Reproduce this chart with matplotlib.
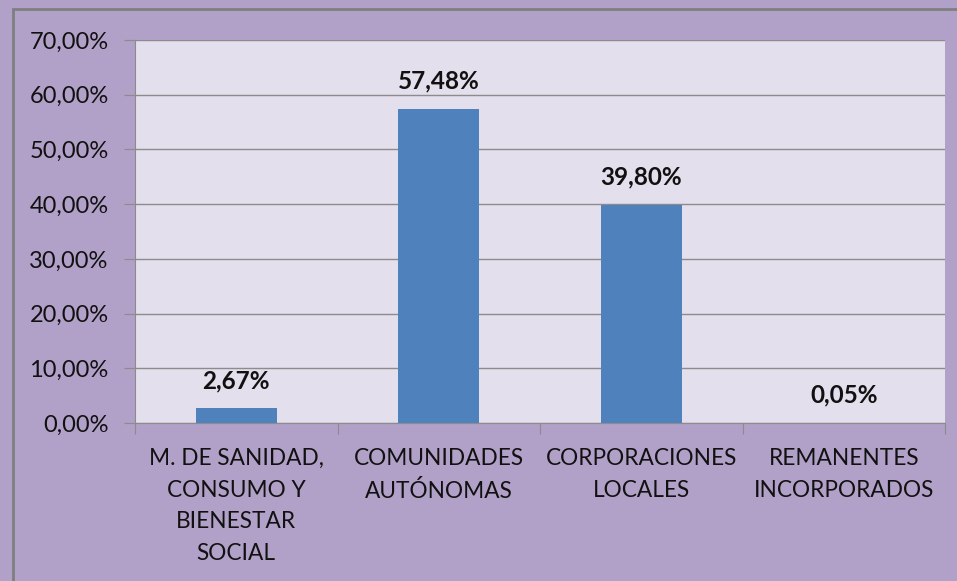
import matplotlib.pyplot as plt
from matplotlib.patches import Rectangle

# datos
categorias = ["M. DE SANIDAD,\nCONSUMO Y\nBIENESTAR\nSOCIAL",
              "COMUNIDADES\nAUTÓNOMAS",
              "CORPORACIONES\nLOCALES",
              "REMANENTES\nINCORPORADOS"]
porcentajes = [2.67, 57.48, 39.80, 0.05]
etiquetas = ["2,67%", "57,48%", "39,80%", "0,05%"]
yticks = [0, 10, 20, 30, 40, 50, 60, 70]

plt.rcParams['font.family'] = ['Lato', 'DejaVu Sans']

fig = plt.figure(figsize=(9.57, 5.81), dpi=100)
fig.patch.set_facecolor('#B1A0C7')
ax = fig.add_axes([135 / 957, 1 - 423 / 581, 810 / 957, 383 / 581])
ax.set_facecolor('#E4DFEC')

# borde gris del gráfico (recortado a la derecha y abajo)
fig.patches.append(Rectangle((13 / 957, -0.1), 1.2, 1 - 9 / 581 + 0.1,
                             transform=fig.transFigure, fill=False,
                             edgecolor='#7F7F7F', linewidth=2))

x = range(len(categorias))
ax.bar(x, porcentajes, width=0.4, color='#4F81BD', zorder=3)
for xi, v, t in zip(x, porcentajes, etiquetas):
    ax.text(xi, v + 3.0, t, ha='center', va='bottom', fontsize=17.5,
            fontweight='bold', color='#111111')

ax.set_xlim(-0.5, 3.5)
ax.set_ylim(0, 70)
ax.set_yticks(yticks)
ax.set_yticklabels([f"{v},00%" for v in yticks], fontsize=17, color='#111111')
ax.yaxis.grid(True, color='#8C8C8C', linewidth=1, zorder=0)
ax.set_xticks([-0.5, 0.5, 1.5, 2.5, 3.5])
ax.set_xticklabels([])
ax.set_xticks(list(x), minor=True)
ax.set_xticklabels(categorias, minor=True, fontsize=16.3, color='#111111',
                   linespacing=1.63, va='top')
ax.tick_params(axis='x', which='minor', length=0, pad=18)
ax.tick_params(axis='x', which='major', length=8, color='#8C8C8C')
ax.tick_params(axis='y', length=8, color='#8C8C8C', pad=11)

for s in ['top', 'right']:
    ax.spines[s].set_visible(False)
for s in ['left', 'bottom']:
    ax.spines[s].set_color('#8C8C8C')

fig.savefig('out.png', dpi=100, facecolor=fig.get_facecolor())
